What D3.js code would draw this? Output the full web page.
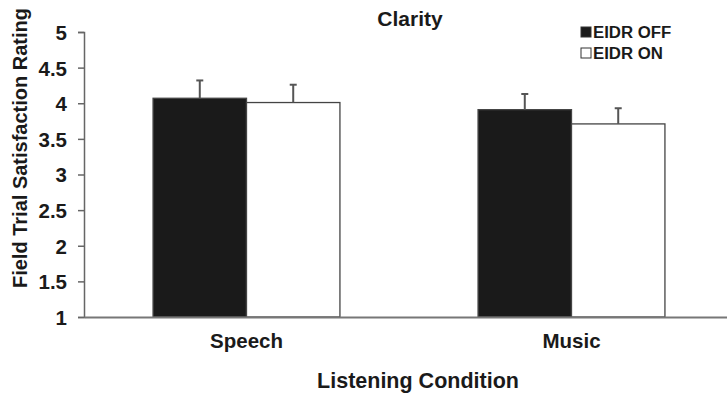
<!DOCTYPE html>
<html>
<head>
<meta charset="utf-8">
<script src="https://cdn.jsdelivr.net/npm/d3@7/dist/d3.min.js"></script>
<style>
  html, body { margin: 0; padding: 0; background: #fff; }
  svg { display: block; }
  text { font-family: "Liberation Sans", Arial, sans-serif; font-weight: bold; fill: #1a1a1a; }
</style>
</head>
<body>
<svg id="chart" width="727" height="396"></svg>
<script>
// Listening conditions and the two EIDR settings
const categories = ["Speech", "Music"];
const seriesNames = ["EIDR OFF", "EIDR ON"];
const eidrOff = [4.07, 3.91];
const eidrOn = [4.01, 3.71];
const errOff = [0.25, 0.22];
const errOn = [0.25, 0.22];
const yTicks = [1, 1.5, 2, 2.5, 3, 3.5, 4, 4.5, 5];
const yTickLabels = ["1", "1.5", "2", "2.5", "3", "3.5", "4", "4.5", "5"];
const titleText = "Clarity";
const xTitle = "Listening Condition";
const yTitle = "Field Trial Satisfaction Rating";

const svg = d3.select("#chart");
const plot = { left: 84, right: 734, top: 32, bottom: 317 };

const x = d3.scaleBand()
  .domain(categories)
  .range([plot.left, plot.right])
  .paddingInner(0.425)
  .paddingOuter(0.2125);

const xs = d3.scaleBand()
  .domain(seriesNames)
  .range([0, x.bandwidth()]);

const y = d3.scaleLinear().domain([1, 5]).range([plot.bottom, plot.top]);

const rows = categories.map((c, i) => ({
  cat: c,
  bars: [
    { s: seriesNames[0], v: eidrOff[i], e: errOff[i], fill: "#1a1a1a" },
    { s: seriesNames[1], v: eidrOn[i], e: errOn[i], fill: "#ffffff" }
  ]
}));

// Bars
const groups = svg.selectAll("g.grp").data(rows).join("g")
  .attr("class", "grp")
  .attr("transform", d => `translate(${x(d.cat)},0)`);

groups.selectAll("rect").data(d => d.bars).join("rect")
  .attr("x", d => xs(d.s))
  .attr("y", d => y(d.v))
  .attr("width", xs.bandwidth())
  .attr("height", d => y(1) - y(d.v))
  .attr("fill", d => d.fill)
  .attr("stroke", "#444")
  .attr("stroke-width", 1.3);

// Error bars (upper only)
const eb = groups.selectAll("g.err").data(d => d.bars).join("g").attr("class", "err");
eb.append("line")
  .attr("x1", d => xs(d.s) + xs.bandwidth() / 2)
  .attr("x2", d => xs(d.s) + xs.bandwidth() / 2)
  .attr("y1", d => y(d.v))
  .attr("y2", d => y(d.v + d.e))
  .attr("stroke", "#555").attr("stroke-width", 2);
eb.append("line")
  .attr("x1", d => xs(d.s) + xs.bandwidth() / 2 - 3.5)
  .attr("x2", d => xs(d.s) + xs.bandwidth() / 2 + 3.5)
  .attr("y1", d => y(d.v + d.e))
  .attr("y2", d => y(d.v + d.e))
  .attr("stroke", "#555").attr("stroke-width", 2);

// Y axis
const yAxis = d3.axisLeft(y)
  .tickValues(yTicks)
  .tickFormat((d, i) => yTickLabels[i])
  .tickSize(6)
  .tickPadding(11);
const gy = svg.append("g").attr("transform", `translate(${plot.left},0)`).call(yAxis);
gy.select(".domain").attr("stroke", "#666").attr("stroke-width", 1.5);
gy.selectAll(".tick line").attr("stroke", "#666").attr("stroke-width", 1.5);
gy.selectAll(".tick text")
  .attr("font-size", 20.5).attr("font-family", null).attr("fill", "#1a1a1a")
  .attr("dy", "0.36em");

// X axis
const xAxis = d3.axisBottom(x).tickSize(0).tickPadding(16);
const gx = svg.append("g").attr("transform", `translate(0,${plot.bottom})`).call(xAxis);
gx.select(".domain").attr("stroke", "#777").attr("stroke-width", 2);
gx.selectAll(".tick text")
  .attr("font-size", 20.5).attr("font-family", null).attr("fill", "#1a1a1a");

// Titles
svg.append("text")
  .attr("x", 410).attr("y", 26)
  .attr("text-anchor", "middle").attr("font-size", 21)
  .text(titleText);

svg.append("text")
  .attr("x", 418).attr("y", 388)
  .attr("text-anchor", "middle").attr("font-size", 21.5)
  .text(xTitle);

svg.append("text")
  .attr("transform", "translate(27,148) rotate(-90)")
  .attr("text-anchor", "middle").attr("font-size", 20)
  .text(yTitle);

// Legend
const legend = svg.append("g").attr("transform", "translate(581,0)");
const legendFills = ["#1a1a1a", "#ffffff"];
seriesNames.forEach((name, i) => {
  const yy = 37.5 + i * 21;
  legend.append("rect")
    .attr("x", 0).attr("y", yy - 10.5).attr("width", 10).attr("height", 10)
    .attr("fill", legendFills[i]).attr("stroke", "#333").attr("stroke-width", 1);
  legend.append("text")
    .attr("x", 12).attr("y", yy).attr("font-size", 16.8)
    .text(name);
});
</script>
</body>
</html>
